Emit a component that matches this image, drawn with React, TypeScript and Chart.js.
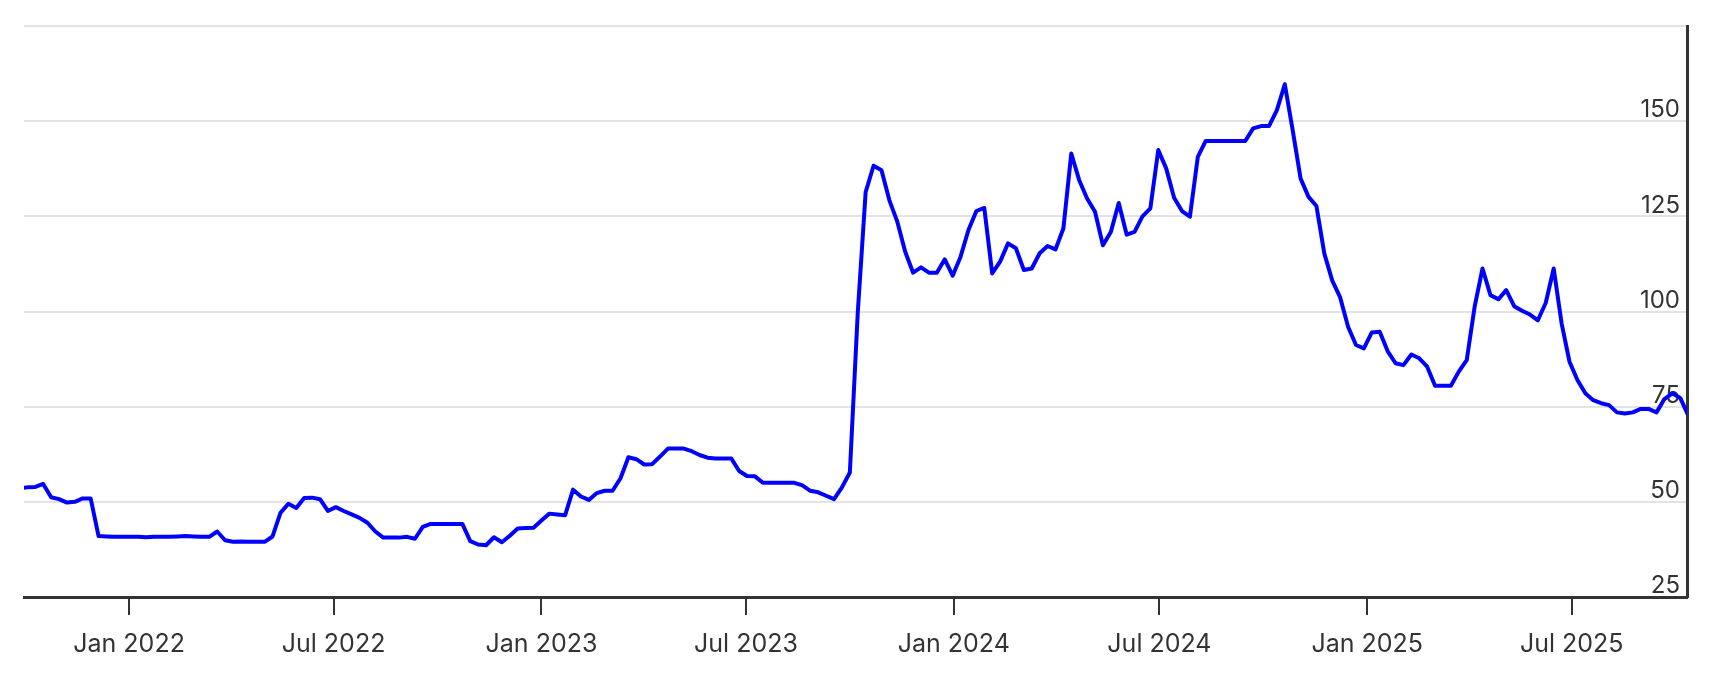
import React, { useEffect, useRef } from 'react';
import { Chart, registerables } from 'chart.js';

Chart.register(...registerables);

// Weekly observations, first one on START_DATE, one week apart
const START_DATE = '2021-09-26';
const WEEK_DAYS = 7;
const X_MIN_DATE = '2021-09-30';
const X_MAX_DATE = '2025-10-11';

const seriesValues = [
  53.6,
  53.8, 53.9, 54.7, 51.2, 50.7, 49.8, 50.0, 50.9, 50.9, 41.0,
  40.9, 40.8, 40.8, 40.8, 40.8, 40.7, 40.8, 40.8, 40.8, 40.9,
  41.0, 40.9, 40.8, 40.8, 42.2, 39.9, 39.5, 39.6, 39.5, 39.5,
  39.5, 40.9, 47.1, 49.5, 48.4, 51.0, 51.1, 50.7, 47.6, 48.6,
  47.6, 46.7, 45.8, 44.5, 42.2, 40.6, 40.6, 40.6, 40.8, 40.3,
  43.4, 44.2, 44.2, 44.2, 44.2, 44.2, 39.7, 38.8, 38.6, 40.7,
  39.4, 41.1, 43.0, 43.1, 43.2, 45.1, 46.9, 46.7, 46.5, 53.2,
  51.4, 50.5, 52.3, 52.9, 52.9, 56.2, 61.7, 61.2, 59.8, 59.9,
  61.9, 64.0, 64.0, 64.0, 63.3, 62.3, 61.6, 61.4, 61.4, 61.4,
  58.1, 56.8, 56.7, 55.0, 55.0, 55.0, 55.0, 55.0, 54.3, 52.9,
  52.5, 51.6, 50.7, 53.8, 57.7, 99.7, 131.4, 138.3, 137.1, 129.2,
  123.6, 115.7, 110.2, 111.6, 110.2, 110.2, 113.7, 109.4, 114.4, 121.4,
  126.4, 127.2, 110.0, 113.1, 117.9, 116.6, 110.9, 111.3, 115.3, 117.2,
  116.3, 121.8, 141.5, 134.5, 129.7, 126.2, 117.4, 120.9, 128.5, 120.2,
  120.9, 125.0, 127.1, 142.4, 137.6, 129.9, 126.4, 124.9, 140.6, 144.8,
  144.8, 144.8, 144.8, 144.8, 144.8, 148.1, 148.7, 148.7, 152.9, 159.7,
  147.6, 134.9, 130.1, 127.7, 115.2, 108.1, 103.7, 96.0, 91.2, 90.3,
  94.5, 94.7, 89.6, 86.4, 85.9, 88.7, 87.7, 85.5, 80.5, 80.5,
  80.5, 84.2, 87.2, 101.2, 111.3, 104.3, 103.2, 105.6, 101.4, 100.2,
  99.2, 97.7, 102.3, 111.3, 96.9, 86.8, 82.0, 78.5, 76.7, 75.9,
  75.4, 73.5, 73.2, 73.5, 74.4, 74.4, 73.5, 77.0, 78.5, 77.3,
  72.8,
];

const xTickDates = [
  '2022-01-01', '2022-07-01', '2023-01-01', '2023-07-01',
  '2024-01-01', '2024-07-01', '2025-01-01', '2025-07-01',
];
const xTickLabels = [
  'Jan 2022', 'Jul 2022', 'Jan 2023', 'Jul 2023',
  'Jan 2024', 'Jul 2024', 'Jan 2025', 'Jul 2025',
];
const yTickValues = [25, 50, 75, 100, 125, 150, 175];
const yTickLabels = ['25', '50', '75', '100', '125', '150', ''];

function dayNum(d: string): number {
  const [y, m, dd] = d.split('-').map(Number);
  const [sy, sm, sd] = START_DATE.split('-').map(Number);
  return Math.round((Date.UTC(y, m - 1, dd) - Date.UTC(sy, sm - 1, sd)) / 86400000);
}

export default function App() {
  const ref = useRef<HTMLCanvasElement | null>(null);

  useEffect(() => {
    if (!ref.current) return;
    const points = seriesValues.map((v, i) => ({ x: i * WEEK_DAYS, y: v }));
    const textColor = '#333333';
    const chart = new Chart(ref.current, {
      type: 'line',
      data: {
        datasets: [
          {
            data: points,
            borderColor: '#0000ff',
            borderWidth: 4,
            pointRadius: 0,
            pointHoverRadius: 0,
            tension: 0,
            fill: false,
            borderJoinStyle: 'round',
          },
        ],
      },
      options: {
        animation: false,
        responsive: false,
        devicePixelRatio: 1,
        parsing: false,
        layout: { autoPadding: false, padding: { left: 24, top: 26, right: 33, bottom: 26 } },
        plugins: {
          legend: { display: false },
          tooltip: { enabled: false },
          title: { display: false },
        },
        scales: {
          x: {
            type: 'linear',
            min: dayNum(X_MIN_DATE),
            max: dayNum(X_MAX_DATE),
            afterBuildTicks: (scale: any) => {
              scale.ticks = xTickDates.map((d) => ({ value: dayNum(d) }));
            },
            afterFit: (scale: any) => {
              scale.height = 59;
              scale.paddingLeft = 0;
              scale.paddingRight = 0;
              scale.paddingTop = 0;
              scale.paddingBottom = 0;
            },
            ticks: {
              autoSkip: false,
              maxRotation: 0,
              minRotation: 0,
              padding: 14,
              color: textColor,
              font: { family: 'Inter', size: 25 },
              callback: (_v: any, i: number) => xTickLabels[i],
            },
            grid: {
              drawOnChartArea: false,
              drawTicks: true,
              tickLength: 18,
              color: textColor,
              lineWidth: 2,
            },
            border: { display: true, color: textColor, width: 3 },
          },
          y: {
            type: 'linear',
            position: 'right',
            min: 25,
            max: 175,
            afterBuildTicks: (scale: any) => {
              scale.ticks = yTickValues.map((v) => ({ value: v }));
            },
            afterFit: (scale: any) => {
              scale.width = 0;
              scale.paddingLeft = 0;
              scale.paddingRight = 0;
              scale.paddingTop = 0;
              scale.paddingBottom = 0;
            },
            ticks: {
              mirror: true,
              padding: -7,
              labelOffset: -11,
              color: textColor,
              font: { family: 'Inter', size: 24 },
              callback: (_v: any, i: number) => yTickLabels[i],
            },
            grid: {
              drawTicks: false,
              color: '#e3e3e3',
              lineWidth: 2,
            },
            border: { display: true, color: textColor, width: 3 },
          },
        },
      },
    } as any);
    return () => chart.destroy();
  }, []);

  return (
    <div style={{ position: 'fixed', left: 0, top: 0, width: 1720, height: 682, background: '#ffffff' }}>
      <canvas ref={ref} width={1720} height={682} style={{ width: 1720, height: 682, display: 'block' }} />
    </div>
  );
}
